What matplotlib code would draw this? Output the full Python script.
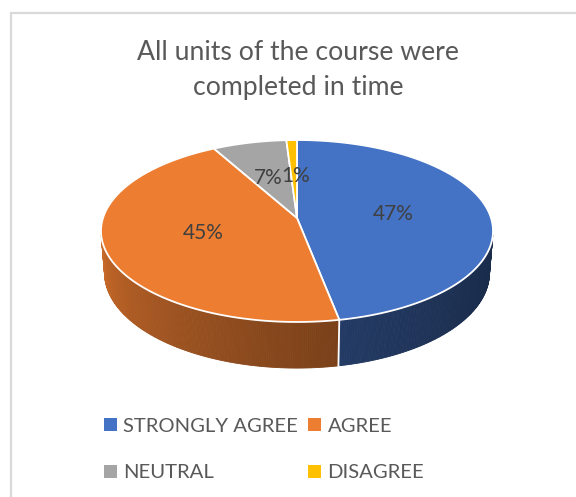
import numpy as np
import matplotlib
matplotlib.use("Agg")
import matplotlib.pyplot as plt
from matplotlib.patches import Polygon, Patch
from matplotlib.colors import to_rgb

plt.rcParams['font.family'] = ['Lato', 'DejaVu Sans']

title = "All units of the course were\ncompleted in time"
categories = ["STRONGLY AGREE", "AGREE", "NEUTRAL", "DISAGREE"]
values = [47, 45, 7, 1]
colors = ["#4472C4", "#ED7D31", "#A5A5A5", "#FFC000"]

W, H = 576, 497
fig = plt.figure(figsize=(W / 100, H / 100), dpi=100)
ax = fig.add_axes([0, 0, 1, 1])
ax.set_xlim(0, W)
ax.set_ylim(H, 0)
ax.axis('off')

# chart area border
ax.plot([10.5, 10.5, W + 5], [H + 5, 12.5, 12.5], color="#D9D9D9", lw=1.6,
        solid_joinstyle='miter')

# perspective projection of a 3D pie (unit radius)
phi = np.deg2rad(27.35)
c, s = np.cos(phi), np.sin(phi)
D = 7 * c
F = 194 * D
CX, CY = 297, 218
h = 0.245


def proj(theta_deg, r=1.0, Z=0.0):
    t = np.deg2rad(theta_deg)
    X = r * np.sin(t)
    Y = r * np.cos(t)
    d = D + Y * c - Z * s
    return CX + F * X / d, CY - F * (Y * s + Z * c) / d


def shade(th):
    u = np.clip((th - 100) / 160.0, 0, 1)
    return 0.38 + 0.47 * u ** 1.5


vals = np.array(values, float)
frac = vals / vals.sum()
bounds = np.concatenate([[0], np.cumsum(frac)]) * 360

tmin = np.degrees(np.arccos(-1 / (D * c)))
tmax = 360 - tmin

# side walls
for i, col in enumerate(colors):
    a0, a1 = max(bounds[i], tmin), min(bounds[i + 1], tmax)
    if a1 <= a0:
        continue
    base = np.array(to_rgb(col))
    ts = np.linspace(a0, a1, max(int((a1 - a0) / 0.5), 2) + 1)
    for t0, t1 in zip(ts[:-1], ts[1:]):
        p = [proj(t0), proj(t1), proj(t1, Z=-h), proj(t0, Z=-h)]
        colr = np.clip(base * shade(0.5 * (t0 + t1)), 0, 1)
        ax.add_patch(Polygon(p, closed=True, facecolor=colr, edgecolor=colr,
                             lw=0.6, zorder=2))
# white seams on side
for b in bounds[1:-1]:
    if tmin < b < tmax:
        xa, ya = proj(b)
        xb, yb = proj(b, Z=-h)
        ax.plot([xa, xb], [ya, yb], color="white", lw=1.3, zorder=3)

# top faces
for i, col in enumerate(colors):
    ts = np.linspace(bounds[i], bounds[i + 1], max(int((bounds[i + 1] - bounds[i]) / 0.5), 2) + 1)
    pts = [proj(0, r=0)] + [proj(t) for t in ts]
    ax.add_patch(Polygon(pts, closed=True, facecolor=col, edgecolor="white",
                         lw=1.3, joinstyle='round', zorder=4))

# data labels
nudge = [0, 0, -3, 1.5]
for i, v in enumerate(values):
    mid = 0.5 * (bounds[i] + bounds[i + 1])
    x, y = proj(mid, r=0.5)
    ax.text(x + nudge[i], y, f"{round(frac[i] * 100):.0f}%", ha='center', va='center',
            fontsize=15, color="#404040", zorder=6)

# title
ax.text(298, 70, title, ha='center', va='center', fontsize=19.2,
        color="#595959", linespacing=1.45)

# legend (row-major order)
handles = [Patch(facecolor=col, edgecolor='none') for col in colors]
order = [0, 2, 1, 3]
leg = ax.legend([handles[k] for k in order], [categories[k] for k in order],
                ncol=2, loc='upper left', bbox_to_anchor=(104 / W, 1 - 418 / H),
                frameon=False, fontsize=14.6, labelcolor="#595959",
                handlelength=0.62, handleheight=0.62, handletextpad=0.33,
                columnspacing=0.5, labelspacing=1.45, borderaxespad=0, borderpad=0)

fig.savefig("out.png", dpi=100)
